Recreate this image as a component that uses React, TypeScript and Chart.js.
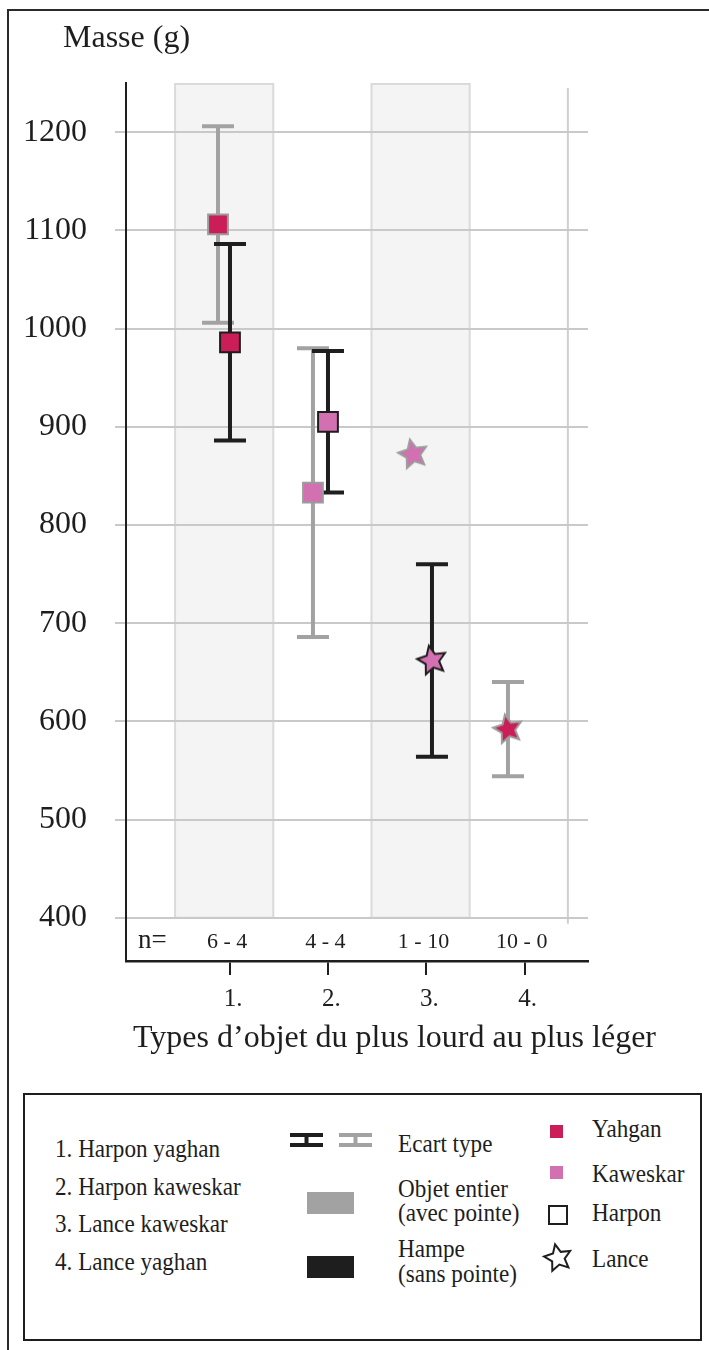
import React, { useEffect, useRef } from 'react';
import { Chart, registerables } from 'chart.js';

Chart.register(...registerables);

// ---------- data ----------
const categories = ['1.', '2.', '3.', '4.'];
const nCounts = ['6 - 4', '4 - 4', '1 - 10', '10 - 0'];
const peuple = ['Yahgan', 'Kaweskar', 'Kaweskar', 'Yahgan'];
const typeObjet = ['Harpon', 'Harpon', 'Lance', 'Lance'];

// Objet entier (avec pointe) - grey
const objetX = [0.937, 1.904, 2.923, 3.89];
const objetMean = [1106, 833, 872, 592];
const objetSd: (number | null)[] = [100, 147, null, 48];

// Hampe (sans pointe) - black
const hampeX: (number | null)[] = [1.059, 2.057, 3.116, null];
const hampeMean: (number | null)[] = [986, 905, 662, null];
const hampeSd: (number | null)[] = [100, 72, 98, null];

const yTicks = [400, 500, 600, 700, 800, 900, 1000, 1100, 1200];
const shadedBands = [
  [0.5, 1.5],
  [2.5, 3.5],
];

const typesLegend = ['1. Harpon yaghan', '2. Harpon kaweskar', '3. Lance kaweskar', '4. Lance yaghan'];

// ---------- styles ----------
const FONT = '"Liberation Serif", "Times New Roman", serif';
const INK = '#1e1e1e';
const GREY = '#a2a2a2';
const COLORS: Record<string, string> = { Yahgan: '#cb1d57', Kaweskar: '#d270b2' };
const TICK_SHIFT = 0.06;
const N_SHIFT = 0.03;

function starPath(ctx: CanvasRenderingContext2D, outer: number, inner: number) {
  ctx.beginPath();
  for (let i = 0; i < 10; i++) {
    const r = i % 2 ? inner : outer;
    const a = -Math.PI / 2 + (i * Math.PI) / 5;
    ctx.lineTo(r * Math.cos(a), r * Math.sin(a));
  }
  ctx.closePath();
}

function makeStar(fill: string, stroke: string) {
  const size = 38;
  const c = document.createElement('canvas');
  c.width = size;
  c.height = size;
  const ctx = c.getContext('2d')!;
  ctx.translate(size / 2, size / 2);
  ctx.rotate((-12 * Math.PI) / 180);
  starPath(ctx, 15, 7.2);
  ctx.fillStyle = fill;
  ctx.fill();
  ctx.lineWidth = 2;
  ctx.lineJoin = 'miter';
  ctx.strokeStyle = stroke;
  ctx.stroke();
  return c;
}

function buildDataset(label: string, xs: (number | null)[], means: (number | null)[], border: string) {
  const data: { x: number; y: number }[] = [];
  const bg: string[] = [];
  const styles: any[] = [];
  xs.forEach((x, i) => {
    const m = means[i];
    if (x == null || m == null) return;
    data.push({ x, y: m });
    const col = COLORS[peuple[i]];
    bg.push(col);
    styles.push(typeObjet[i] === 'Harpon' ? 'rect' : makeStar(col, border));
  });
  return {
    label,
    data,
    showLine: false,
    pointBackgroundColor: bg,
    pointBorderColor: border,
    pointBorderWidth: 2,
    pointStyle: styles,
    pointRadius: 14,
    pointHoverRadius: 14,
  };
}

const decoPlugin = {
  id: 'deco',
  beforeDraw(chart: any) {
    const { ctx, chartArea, scales } = chart;
    const x = scales.x;
    const y = scales.y;
    const top = chartArea.top;
    const base = y.getPixelForValue(yTicks[0]);
    ctx.save();
    shadedBands.forEach(([a, b]) => {
      const l = x.getPixelForValue(a);
      const r = x.getPixelForValue(b);
      ctx.fillStyle = '#f4f4f4';
      ctx.fillRect(l, top, r - l, base - top);
      ctx.strokeStyle = '#dadada';
      ctx.lineWidth = 2;
      ctx.strokeRect(l, top + 1, r - l, base - top - 1);
    });
    const rx = x.getPixelForValue(4.5);
    ctx.strokeStyle = '#cfcfcf';
    ctx.lineWidth = 2;
    ctx.beginPath();
    ctx.moveTo(rx, top + 5);
    ctx.lineTo(rx, base + 6);
    ctx.stroke();
    ctx.restore();
  },
  beforeDatasetsDraw(chart: any) {
    const { ctx, scales } = chart;
    const x = scales.x;
    const y = scales.y;
    const drawBars = (xs: (number | null)[], means: (number | null)[], sds: (number | null)[], color: string) => {
      xs.forEach((xv, i) => {
        const m = means[i];
        const sd = sds[i];
        if (xv == null || m == null || sd == null) return;
        const px = x.getPixelForValue(xv);
        const pt = y.getPixelForValue(m + sd);
        const pb = y.getPixelForValue(m - sd);
        ctx.strokeStyle = color;
        ctx.lineWidth = 4;
        ctx.lineCap = 'butt';
        ctx.beginPath();
        ctx.moveTo(px, pt);
        ctx.lineTo(px, pb);
        ctx.moveTo(px - 16, pt);
        ctx.lineTo(px + 16, pt);
        ctx.moveTo(px - 16, pb);
        ctx.lineTo(px + 16, pb);
        ctx.stroke();
      });
    };
    ctx.save();
    drawBars(objetX, objetMean, objetSd, GREY);
    drawBars(hampeX, hampeMean, hampeSd, INK);
    ctx.restore();
  },
  afterDraw(chart: any) {
    const { ctx, scales } = chart;
    const x = scales.x;
    ctx.save();
    ctx.fillStyle = INK;
    ctx.textBaseline = 'alphabetic';
    ctx.textAlign = 'left';
    ctx.font = `32px ${FONT}`;
    ctx.fillText('Masse (g)', 63, 47);
    ctx.fillText('Types d\u2019objet du plus lourd au plus l\u00e9ger', 133, 1047);
    ctx.font = `27px ${FONT}`;
    ctx.fillText('n=', 138, 948);
    ctx.font = `22px ${FONT}`;
    ctx.textAlign = 'center';
    nCounts.forEach((t, i) => {
      ctx.fillText(t, x.getPixelForValue(i + 1 + N_SHIFT), 948);
    });
    ctx.restore();
  },
};

function ChartCanvas() {
  const ref = useRef<HTMLCanvasElement>(null);
  useEffect(() => {
    if (!ref.current) return;
    const chart = new Chart(ref.current, {
      type: 'scatter',
      data: {
        datasets: [
          buildDataset('Objet entier (avec pointe)', objetX, objetMean, '#9c9c9c') as any,
          buildDataset('Hampe (sans pointe)', hampeX, hampeMean, INK) as any,
        ],
      },
      options: {
        responsive: false,
        animation: false,
        events: [],
        devicePixelRatio: 1,
        layout: { padding: { top: 83, right: 121, bottom: 0, left: 0 } },
        plugins: { legend: { display: false }, tooltip: { enabled: false }, title: { display: false } },
        scales: {
          x: {
            type: 'linear',
            min: 0,
            max: 4.705,
            afterBuildTicks: (s: any) => {
              s.ticks = categories.map((_, i) => ({ value: i + 1 + TICK_SHIFT }));
            },
            afterFit: (s: any) => {
              s.height = 119;
            },
            ticks: {
              callback: (_v: any, i: number) => categories[i],
              font: { family: FONT, size: 25 },
              color: INK,
              padding: 9,
              labelOffset: 3,
              maxRotation: 0,
              autoSkip: false,
            },
            grid: { drawOnChartArea: false, drawTicks: true, tickLength: 14, color: INK, lineWidth: 2 },
            border: { display: true, color: INK, width: 2.5 },
          },
          y: {
            type: 'linear',
            min: 356,
            max: 1250,
            afterBuildTicks: (s: any) => {
              s.ticks = yTicks.map((v) => ({ value: v }));
            },
            afterFit: (s: any) => {
              s.width = 126;
            },
            ticks: {
              callback: (v: any) => String(v),
              font: { family: FONT, size: 32 },
              color: INK,
              padding: 28,
            },
            grid: { color: '#c9c9c9', lineWidth: 2, tickLength: 11, drawTicks: true },
            border: { display: true, color: INK, width: 2 },
          },
        },
      },
      plugins: [decoPlugin],
    });
    return () => chart.destroy();
  }, []);
  return (
    <canvas
      ref={ref}
      width={709}
      height={1080}
      style={{ position: 'absolute', left: 0, top: 0, width: 709, height: 1080 }}
    />
  );
}

const LS = 26;
function T({ x, b, children }: { x: number; b: number; children: React.ReactNode }) {
  return (
    <div
      style={{
        position: 'absolute',
        left: x,
        top: b - 0.8375 * LS,
        fontSize: LS,
        lineHeight: `${LS}px`,
        fontFamily: FONT,
        whiteSpace: 'nowrap',
        color: INK,
        transform: 'scaleX(0.89)',
        transformOrigin: 'left top',
      }}
    >
      {children}
    </div>
  );
}

function ErrIcon({ x, y, color }: { x: number; y: number; color: string }) {
  return (
    <svg style={{ position: 'absolute', left: x, top: y }} width={33} height={14}>
      <rect x={0} y={0} width={33} height={4} fill={color} />
      <rect x={14.5} y={0} width={4} height={14} fill={color} />
      <rect x={0} y={10} width={33} height={4} fill={color} />
    </svg>
  );
}

function StarIcon({ cx, cy, r }: { cx: number; cy: number; r: number }) {
  const pts: string[] = [];
  for (let i = 0; i < 10; i++) {
    const rr = i % 2 ? r * 0.48 : r;
    const a = -Math.PI / 2 + (i * Math.PI) / 5 - (12 * Math.PI) / 180;
    pts.push(`${(r + 3 + rr * Math.cos(a)).toFixed(2)},${(r + 3 + rr * Math.sin(a)).toFixed(2)}`);
  }
  const sz = 2 * r + 6;
  return (
    <svg style={{ position: 'absolute', left: cx - r - 3, top: cy - r - 3 }} width={sz} height={sz}>
      <polygon points={pts.join(' ')} fill="none" stroke={INK} strokeWidth={2} />
    </svg>
  );
}

function Legend() {
  const rowB = [1158, 1196, 1233, 1271];
  return (
    <>
      <div
        style={{
          position: 'absolute',
          left: 23,
          top: 1093,
          width: 702 - 23,
          height: 1341 - 1093,
          border: `2px solid ${INK}`,
          boxSizing: 'border-box',
        }}
      />
      {typesLegend.map((t, i) => (
        <T key={t} x={55} b={rowB[i]}>
          {t}
        </T>
      ))}
      <ErrIcon x={290} y={1133} color={INK} />
      <ErrIcon x={339} y={1133} color={GREY} />
      <T x={398} b={1153}>Ecart type</T>
      <div style={{ position: 'absolute', left: 307, top: 1192, width: 47, height: 22, background: GREY }} />
      <T x={398} b={1198}>Objet entier</T>
      <T x={398} b={1222}>(avec pointe)</T>
      <div style={{ position: 'absolute', left: 307, top: 1256, width: 47, height: 22, background: INK }} />
      <T x={398} b={1258}>Hampe</T>
      <T x={398} b={1283}>(sans pointe)</T>
      <div style={{ position: 'absolute', left: 550, top: 1125, width: 13, height: 13, background: COLORS.Yahgan }} />
      <T x={592} b={1138}>Yahgan</T>
      <div style={{ position: 'absolute', left: 550, top: 1166, width: 13, height: 13, background: COLORS.Kaweskar }} />
      <T x={592} b={1183}>Kaweskar</T>
      <div
        style={{
          position: 'absolute',
          left: 548,
          top: 1205,
          width: 20,
          height: 20,
          border: `2px solid ${INK}`,
          boxSizing: 'border-box',
        }}
      />
      <T x={592} b={1222}>Harpon</T>
      <StarIcon cx={558} cy={1258} r={14} />
      <T x={592} b={1268}>Lance</T>
    </>
  );
}

export default function App() {
  return (
    <div
      style={{
        position: 'fixed',
        left: 0,
        top: 0,
        width: 709,
        height: 1350,
        background: '#ffffff',
        overflow: 'hidden',
      }}
    >
      <div
        style={{
          position: 'absolute',
          left: 7,
          top: 9,
          width: 760,
          height: 1400,
          borderLeft: '2px solid #2a2a2a',
          borderTop: '2px solid #2a2a2a',
        }}
      />
      <ChartCanvas />
      <Legend />
    </div>
  );
}
